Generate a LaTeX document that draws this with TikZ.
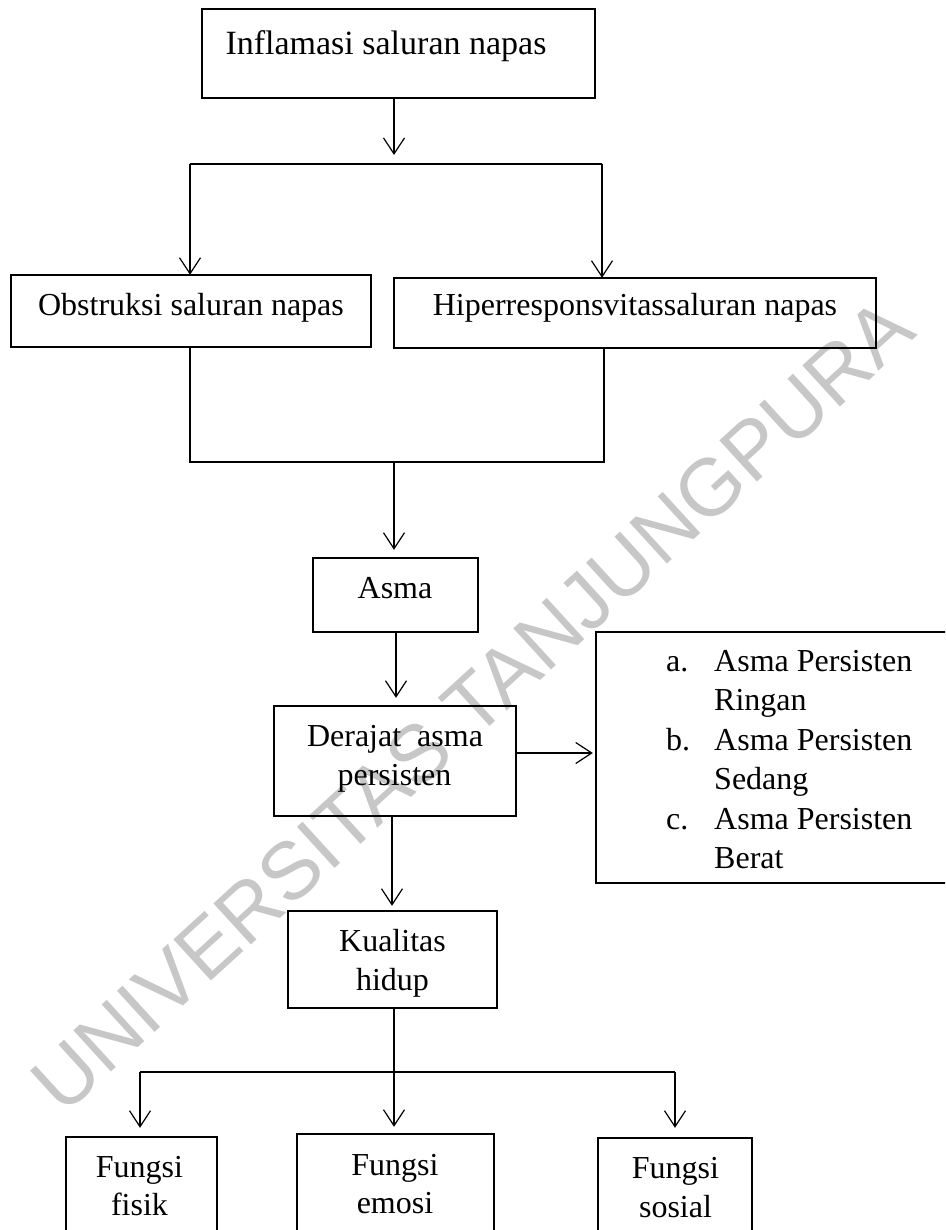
\documentclass[tikz,border=0pt]{standalone}
\usepackage{fontspec}
\setmainfont{Liberation Serif}
\newfontfamily\wmfont{Liberation Sans}
\usetikzlibrary{arrows.meta}
\begin{document}
\begin{tikzpicture}[x=1pt,y=-1pt,
  box/.style={draw, line width=2.4pt, inner sep=0pt},
  txt/.style={anchor=base, inner sep=0pt, font=\fontsize{32}{39}\selectfont},
  ltxt/.style={anchor=base west, inner sep=0pt, font=\fontsize{32}{39}\selectfont},
  conn/.style={line width=1.2pt},
  arr/.style={conn, -{Straight Barb[length=16pt,width=21pt]}},
  wm/.style={text=black!22, font=\wmfont\fontsize{81}{90}\selectfont, inner sep=0pt}
]
\path[use as bounding box] (0,0) rectangle (945,1230);
\clip (0,0) rectangle (945,1230);
\fill[white] (0,0) rectangle (945,1230);

% watermark
\node[wm, rotate=42.4] (wmark) at (472,705) {UNIVERSITAS TANJUNGPURA};

% boxes
\node[box, line width=2.8pt, minimum width=393pt, minimum height=89pt] (top) at (398.5,53.5) {};
\node[box, minimum width=360pt, minimum height=72pt] (obs) at (191,311) {};
\node[box, minimum width=482pt, minimum height=70pt] (hip) at (635,313) {};
\node[box, minimum width=165pt, minimum height=74pt] (asma) at (395.5,595) {};
\node[box, minimum width=242pt, minimum height=110pt] (der) at (395,761) {};
\node[box, minimum width=404pt, minimum height=251pt] (list) at (798,757.5) {};
\node[box, minimum width=209pt, minimum height=97pt] (kual) at (392.5,959.5) {};
\node[box, minimum width=151pt, minimum height=140pt] (fisik) at (141.5,1207) {};
\node[box, minimum width=197pt, minimum height=140pt] (emosi) at (395.5,1204) {};
\node[box, minimum width=154pt, minimum height=140pt] (sosial) at (675,1208) {};

% texts
\node[txt, font=\fontsize{34}{40}\selectfont] (ttop) at (386,55) {Inflamasi saluran napas};
\node[txt] (tobs) at (191,315) {Obstruksi saluran napas};
\node[txt] (thip) at (635,315) {Hiperresponsvitassaluran napas};
\node[txt] (tasma) at (395,598) {Asma};
\node[txt] (tder1) at (395,746) {Derajat~ asma};
\node[txt] (tder2) at (394.5,785) {persisten};
\node[ltxt] (la) at (666,671) {a.};
\node[ltxt] (la1) at (714,671) {Asma Persisten};
\node[ltxt] (la2) at (714,710.5) {Ringan};
\node[ltxt] (lb) at (666,750) {b.};
\node[ltxt] (lb1) at (714,750) {Asma Persisten};
\node[ltxt] (lb2) at (714,789.5) {Sedang};
\node[ltxt] (lc) at (666,829) {c.};
\node[ltxt] (lc1) at (714,829) {Asma Persisten};
\node[ltxt] (lc2) at (714,868.5) {Berat};
\node[txt] (tk1) at (392.5,951) {Kualitas};
\node[txt] (tk2) at (392.5,990) {hidup};
\node[txt] (tf1) at (139.5,1177) {Fungsi};
\node[txt] (tf2) at (139.5,1215) {fisik};
\node[txt] (te1) at (395,1175) {Fungsi};
\node[txt] (te2) at (395,1213) {emosi};
\node[txt] (ts1) at (675.5,1178) {Fungsi};
\node[txt] (ts2) at (675.5,1217) {sosial};

% connector junctions
\coordinate (j1) at (394,155);
\coordinate (s1) at (190,164);
\coordinate (s2) at (602,164);
\coordinate (m1) at (190,462);
\coordinate (m2) at (604,462);
\coordinate (m) at (394,462);
\coordinate (b0) at (394,1072);
\coordinate (b1) at (140,1072);
\coordinate (b3) at (675,1072);

% connectors
\draw[arr] (top.south -| j1) -- (j1);
\draw[conn] (s1) -- (s2);
\draw[arr] (s1) -- ([yshift=-1pt]obs.north -| s1);
\draw[arr] (s2) -- ([yshift=-1pt]hip.north -| s2);
\draw[conn] (obs.south -| m1) -- (m1) -- (m2) -- (hip.south -| m2);
\draw[arr, shorten >=7pt] (m) -- (asma.north -| m);
\draw[arr, shorten >=7pt] (asma.south -| 396,0) -- (der.north -| 396,0);
\draw[arr, shorten >=2pt] (der.east |- 0,753) -- (list.west |- 0,753);
\draw[arr, shorten >=4pt] (der.south -| 392,0) -- (kual.north -| 392,0);
\draw[conn] (b1) -- (b3);
\draw[arr, shorten >=6pt] (kual.south -| b0) -- (emosi.north -| b0);
\draw[arr, shorten >=8pt] (b1) -- (fisik.north -| b1);
\draw[arr, shorten >=9pt] (b3) -- (sosial.north -| b3);
\end{tikzpicture}
\end{document}
